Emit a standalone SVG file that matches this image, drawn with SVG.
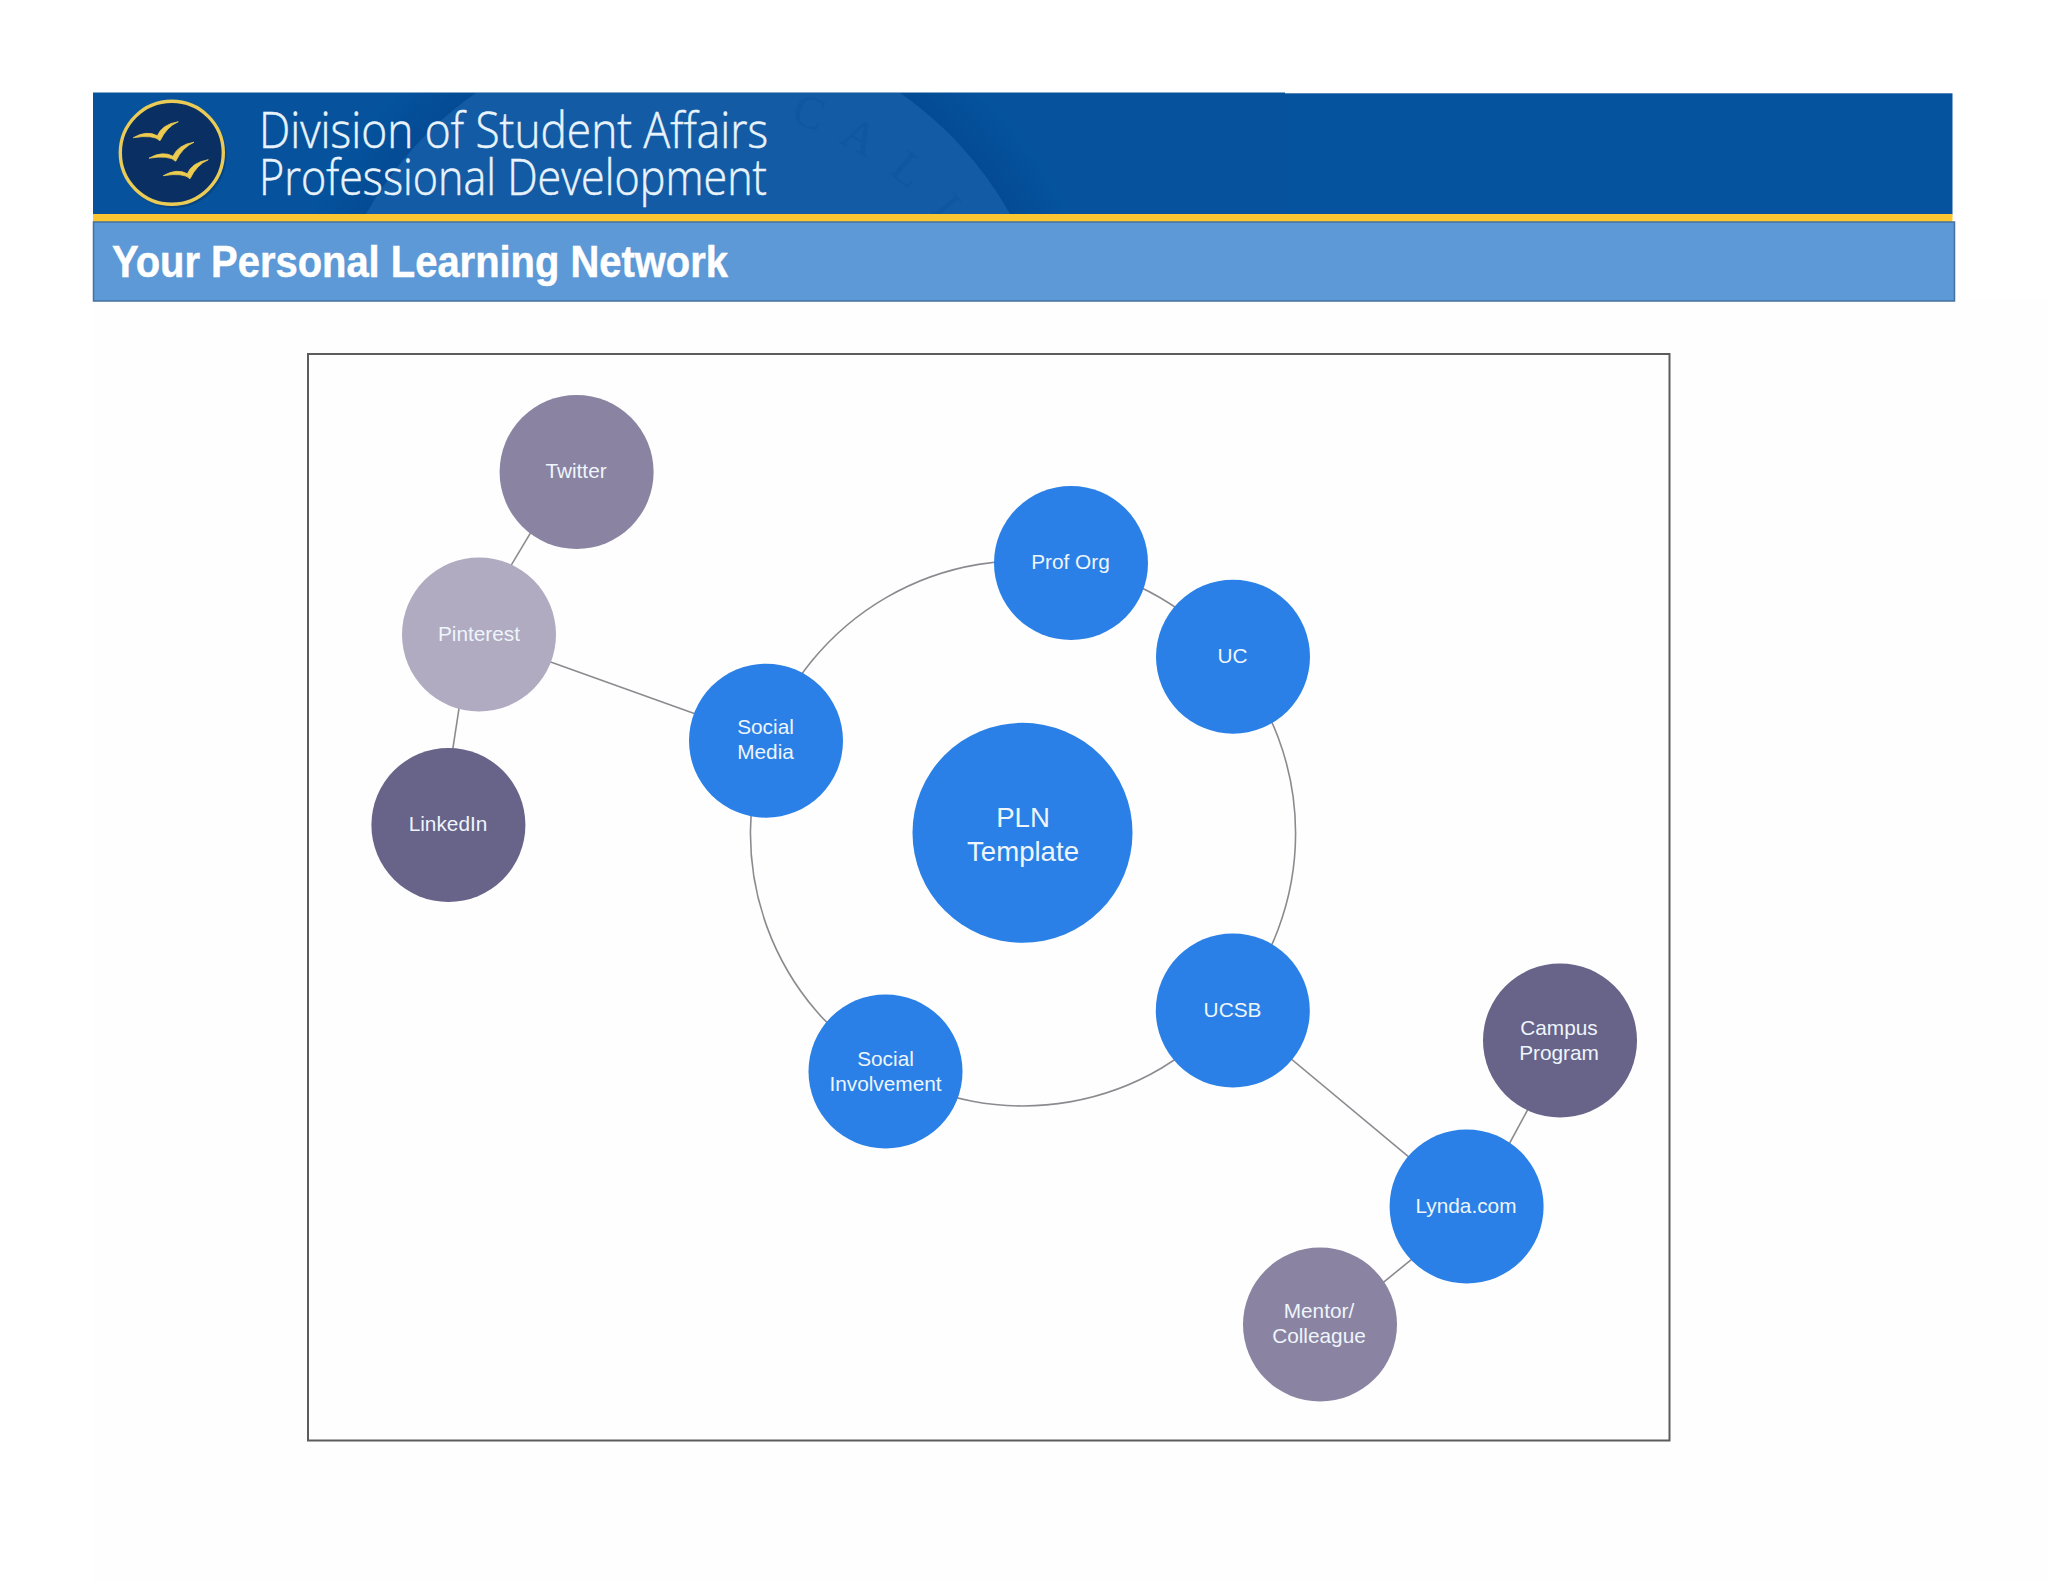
<svg xmlns="http://www.w3.org/2000/svg" xmlns:xlink="http://www.w3.org/1999/xlink" width="2048" height="1582" viewBox="0 0 2048 1582">
<style>
.lbl{font-family:"Liberation Sans",Arial,sans-serif;font-size:20.8px;text-anchor:middle;fill:#eef5fc}
.big{font-size:27.6px}
.blue{fill:#2a80e6}
.mid{fill:#8a83a2}
.dark{fill:#676389}
.pale{fill:#b0abc0}
.edge{fill:none;stroke:#8c8a8f;stroke-width:1.6}
.head{font-family:"Open Sans","Noto Sans",sans-serif;font-weight:300;font-size:49px;fill:#e8f3fb;stroke:#e8f3fb;stroke-width:0.5}
.title{font-family:"Liberation Sans",Arial,sans-serif;font-weight:700;font-size:44.6px;fill:#ffffff;stroke:#ffffff;stroke-width:0.5}
.seal{font-family:"Liberation Serif","Times New Roman",serif;font-size:46px;fill:#0f57a0}
</style>
<defs>
<clipPath id="bannerClip"><rect x="93" y="93" width="1192" height="121"/></clipPath>
<radialGradient id="sealShade" gradientUnits="userSpaceOnUse" cx="688" cy="396" r="425">
<stop offset="0.87" stop-color="#044b94"/>
<stop offset="1" stop-color="#05539e"/>
</radialGradient>
<path id="bird" d="M133.3,137.7 Q146.7,130 157.3,135.7 Q162.3,124.3 178.3,121.7 Q166.7,126.7 160,140.7 Q153.3,134.3 133.3,137.7Z" fill="#eccb4f" stroke="#eccb4f" stroke-width="0.8"/>
</defs>
<rect width="2048" height="1582" fill="#ffffff"/>
<rect x="93" y="300" width="1955" height="1282" fill="#fefefe"/>
<g id="banner">
<rect x="93" y="93.3" width="1859.5" height="121.2" fill="#05539e"/>
<rect x="93" y="92.5" width="1192" height="121.5" fill="#06529c"/>
<g clip-path="url(#bannerClip)">
<circle cx="688" cy="396" r="425" fill="url(#sealShade)"/>
<circle cx="688" cy="396" r="370" fill="#135ba5"/>
<text class="seal" x="790 838 888 930" y="122 142 172 210" rotate="18 28 40 50">CALI</text>
</g>
<rect x="93" y="214" width="1859.5" height="8" fill="#fbc632"/>
<rect x="93.5" y="222" width="1861" height="79" fill="#5c99d6" stroke="#44719f" stroke-width="1.5"/>
<circle cx="173.5" cy="155" r="53" fill="#04376f" opacity="0.5"/>
<circle cx="171.8" cy="152.8" r="51.5" fill="#0a2f63" stroke="#e9cb56" stroke-width="3.4"/>
<use xlink:href="#bird" href="#bird"/>
<use xlink:href="#bird" href="#bird" transform="translate(15.7,20.5)"/>
<use xlink:href="#bird" href="#bird" transform="translate(30,38)"/>
<text class="head" x="259" y="148" textLength="509" lengthAdjust="spacingAndGlyphs">Division of Student Affairs</text>
<text class="head" x="259" y="195.3" textLength="508" lengthAdjust="spacingAndGlyphs">Professional Development</text>
<text class="title" x="112" y="276.7" textLength="616" lengthAdjust="spacingAndGlyphs">Your Personal Learning Network</text>
</g>
<rect id="frame" x="308" y="354" width="1361.5" height="1086.5" fill="#fefefe" stroke="#5c5c5c" stroke-width="2"/>
<g id="connectors">
<path class="edge" d="M766.6,740.9 A272.6,272.6 0 0 1 1070.7,564.9"/>
<path class="edge" d="M1070.7,564.9 A272.6,272.6 0 0 1 1231.6,657.9"/>
<path class="edge" d="M1231.6,657.9 A272.6,272.6 0 0 1 1231.3,1009.2"/>
<path class="edge" d="M1231.3,1009.2 A272.6,272.6 0 0 1 886.5,1069.3"/>
<path class="edge" d="M886.5,1069.3 A272.6,272.6 0 0 1 766.6,740.9"/>
<line class="edge" x1="567" y1="472" x2="470" y2="634"/>
<line class="edge" x1="461.8" y1="690" x2="449.6" y2="770"/>
<line class="edge" x1="520" y1="651" x2="720" y2="722.7"/>
<line class="edge" x1="1270" y1="1041.3" x2="1430" y2="1174.6"/>
<line class="edge" x1="1547" y1="1074" x2="1494" y2="1172"/>
<line class="edge" x1="1435" y1="1240.4" x2="1360" y2="1301.3"/>
</g>
<g id="node-twitter"><circle class="mid" cx="576.6" cy="472" r="77"/><text class="lbl" x="576" y="478">Twitter</text></g>
<g id="node-pinterest"><circle class="pale" cx="479" cy="634.5" r="77"/><text class="lbl" x="479" y="641">Pinterest</text></g>
<g id="node-linkedin"><circle class="dark" cx="448.4" cy="825" r="77"/><text class="lbl" x="448" y="831">LinkedIn</text></g>
<g id="node-social-media"><circle class="blue" cx="766" cy="740.7" r="77"/><text class="lbl" x="765.5" y="734">Social</text><text class="lbl" x="765.5" y="759">Media</text></g>
<g id="node-prof-org"><circle class="blue" cx="1071" cy="563" r="77"/><text class="lbl" x="1070.5" y="569.3">Prof Org</text></g>
<g id="node-uc"><circle class="blue" cx="1233" cy="656.7" r="77"/><text class="lbl" x="1232.5" y="662.5">UC</text></g>
<g id="node-pln"><circle class="blue" cx="1022.5" cy="832.8" r="110"/><text class="lbl big" x="1023" y="827">PLN</text><text class="lbl big" x="1023" y="860.7">Template</text></g>
<g id="node-ucsb"><circle class="blue" cx="1232.8" cy="1010.5" r="77"/><text class="lbl" x="1232.5" y="1017">UCSB</text></g>
<g id="node-social-involvement"><circle class="blue" cx="885.5" cy="1071.5" r="77"/><text class="lbl" x="885.5" y="1065.5">Social</text><text class="lbl" x="885.5" y="1090.5">Involvement</text></g>
<g id="node-campus-program"><circle class="dark" cx="1560" cy="1040.5" r="77"/><text class="lbl" x="1559" y="1034.5">Campus</text><text class="lbl" x="1559" y="1059.5">Program</text></g>
<g id="node-lynda"><circle class="blue" cx="1466.6" cy="1206.5" r="77"/><text class="lbl" x="1466" y="1212.5">Lynda.com</text></g>
<g id="node-mentor"><circle class="mid" cx="1320" cy="1324.6" r="77"/><text class="lbl" x="1319" y="1318">Mentor/</text><text class="lbl" x="1319" y="1343">Colleague</text></g>
</svg>
